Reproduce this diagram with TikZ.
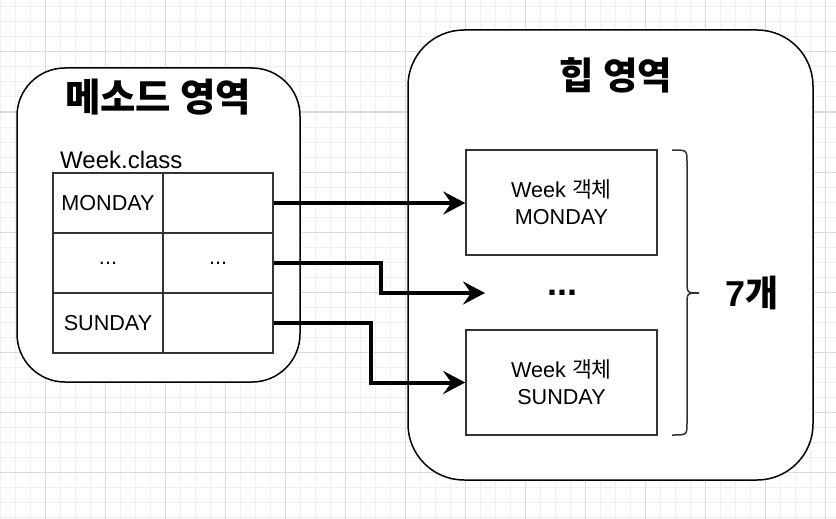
\documentclass[tikz,border=0pt]{standalone}
\usepackage{fontspec}
\setmainfont{Liberation Sans}
\newfontfamily\kr{Noto Sans CJK KR}
\usetikzlibrary{arrows.meta,positioning}

\begin{document}
\begin{tikzpicture}[x=1pt,y=-1pt,
    every node/.style={font=\fontsize{21.6}{27}\selectfont},
    area/.style={draw,line width=1.5pt,fill=white,inner sep=0pt},
    cell/.style={draw=black!80,line width=1.5pt,minimum width=110pt,minimum height=60pt,inner sep=0pt},
    objbox/.style={draw=black!80,line width=1.5pt,fill=white,minimum width=191pt,minimum height=105pt,align=center,inner sep=0pt},
    bigtext/.style={font=\fontsize{36}{40}\selectfont\bfseries},
    ptr/.style={line width=4pt,-{Stealth[length=22pt,width=23pt,inset=8pt]}}]
    \useasboundingbox (0,0) rectangle (836,519);
    % background grid
    \foreach \gx in {0,15,...,836}
     {\draw[black!6,line width=1pt] (\gx,0) -- (\gx,519);}
    \foreach \gy in {7,22,...,519}
     {\draw[black!6,line width=1pt] (0,\gy) -- (836,\gy);}
    \foreach \gx in {45,105,...,836}
     {\draw[black!14,line width=1pt] (\gx,0) -- (\gx,519);}
    \foreach \gy in {52,112,...,519}
     {\draw[black!14,line width=1pt] (0,\gy) -- (836,\gy);}
    % the two areas
    \node[area,rounded corners=48pt,minimum width=283pt,minimum height=314pt] (method) at (158.5,225) {};
    \node[area,rounded corners=56pt,minimum width=405pt,minimum height=450pt] (heap) at (610.5,255) {};
    \node[bigtext,font=\fontsize{38.5}{42}\selectfont\bfseries] (mtitle) at (158,97) {\kr 메소드 영역};
    \node[bigtext,font=\fontsize{37.5}{42}\selectfont\bfseries] (htitle) at (616,75) {\kr 힙 영역};
    % Week.class table
    \node[anchor=west,inner sep=0pt,font=\fontsize{24}{28}\selectfont] (wclass) at (60,160) {Week.class};
    \node[cell] (c11) at (108,203) {MONDAY};
    \node[cell] (c12) at (218,203) {};
    \node[cell] (c21) at (108,263) {...};
    \node[cell] (c22) at (218,263) {...};
    \node[cell] (c31) at (108,323) {SUNDAY};
    \node[cell] (c32) at (218,323) {};
    % objects in the heap
    \node[objbox] (mon) at (561.5,202.5) {Week {\kr 객체}\\MONDAY};
    \node[objbox] (sun) at (561.5,382.5) {Week {\kr 객체}\\SUNDAY};
    \node[bigtext] (hdots) at (562,293) {...};
    \coordinate (dotin) at (485,293);
    \node[bigtext] (count) at (752,293) {7{\kr 개}};
    % references
    \draw[ptr] (c12.east) -- (c12.east -| mon.west);
    \draw[ptr] (c22.east) -- ++(107,0) |- (dotin);
    \draw[ptr] (c32.east) -- ++(97,0) |- (sun.west);
    % brace
    \draw[black!80,line width=1.5pt] (672,150) .. controls (687,150) .. (687,162) -- (687,281)
      .. controls (687,293) .. (699,293) .. controls (687,293) .. (687,305) -- (687,423)
      .. controls (687,435) .. (672,435);
\end{tikzpicture}
\end{document}
